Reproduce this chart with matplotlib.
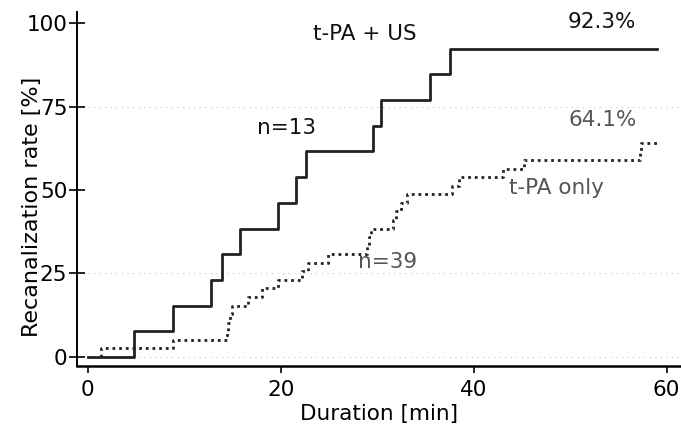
import matplotlib.pyplot as plt
import numpy as np

# t-PA + US (n=13): event times [min], one recanalization per step
us_times = [4.8, 8.8, 12.8, 13.9, 15.75, 19.7, 21.6, 22.6, 29.6, 30.4, 35.5, 37.6]
us_n = 13
# t-PA only (n=39)
tpa_times = [1.4, 8.8, 14.4, 14.6, 14.8, 15.0, 16.6, 18.1, 19.7, 22.2, 22.8, 24.9,
             29.0, 29.2, 29.4, 31.6, 32.0, 32.5, 33.1, 37.8, 38.5, 43.0, 45.2,
             57.2, 57.4]
tpa_n = 39
end_time = 59

xticks = [0, 20, 40, 60]
yticks = [0, 25, 50, 75, 100]


def km_steps(times, n, start, end):
    x = [start] + list(times) + [end]
    y = [0] + [100.0 * (i + 1) / n for i in range(len(times))]
    y = y + [y[-1]]
    return x, y


plt.rcParams['font.family'] = 'DejaVu Sans'
fig = plt.figure(figsize=(6.81, 4.30), dpi=100)
ax = fig.add_axes([77 / 681, 64 / 430, 604 / 681, 354 / 430])

# faint scan gridlines
for g in [0, 25, 75]:
    ax.axhline(g, color='#c8c8c8', lw=0.8, linestyle=(0, (1, 4)), zorder=0)

x1, y1 = km_steps(us_times, us_n, 0, end_time)
ax.step(x1, y1, where='post', color='#222222', lw=2.0)

x2, y2 = km_steps(tpa_times, tpa_n, tpa_times[0], end_time)
ax.step(x2, y2, where='post', color='#222222', lw=2.0, linestyle=(0, (1, 1.4)))

ax.set_xlim(-1.1, 61.5)
ax.set_ylim(-2.7, 103.3)
ax.set_xticks(xticks)
ax.set_yticks(yticks)
ax.spines['top'].set_visible(False)
ax.spines['right'].set_visible(False)
ax.spines['left'].set_linewidth(1.4)
ax.spines['bottom'].set_linewidth(1.8)
ax.tick_params(axis='y', direction='inout', length=12, width=1.2, labelsize=15.5, pad=1)
ax.tick_params(axis='x', direction='out', length=5, width=1.2, labelsize=15.5, pad=5)

ax.set_xlabel('Duration [min]', fontsize=15.5, labelpad=3)
ax.set_ylabel('Recanalization rate [%]', fontsize=16)
ax.yaxis.set_label_coords(-0.058, 0.449)

txt = dict(fontsize=15.5, ha='center', va='center', color='#111111')
ax.text(28.7, 96.7, 't-PA + US', **txt)
ax.text(53.3, 100.3, '92.3%', **txt)
ax.text(20.6, 68.6, 'n=13', **txt)
gtxt = dict(fontsize=15.5, ha='center', va='center', color='#555555')
ax.text(53.4, 71.0, '64.1%', **gtxt)
ax.text(48.6, 50.6, 't-PA only', **gtxt)
ax.text(31.1, 28.4, 'n=39', **gtxt)

fig.savefig('out.png', dpi=100)
